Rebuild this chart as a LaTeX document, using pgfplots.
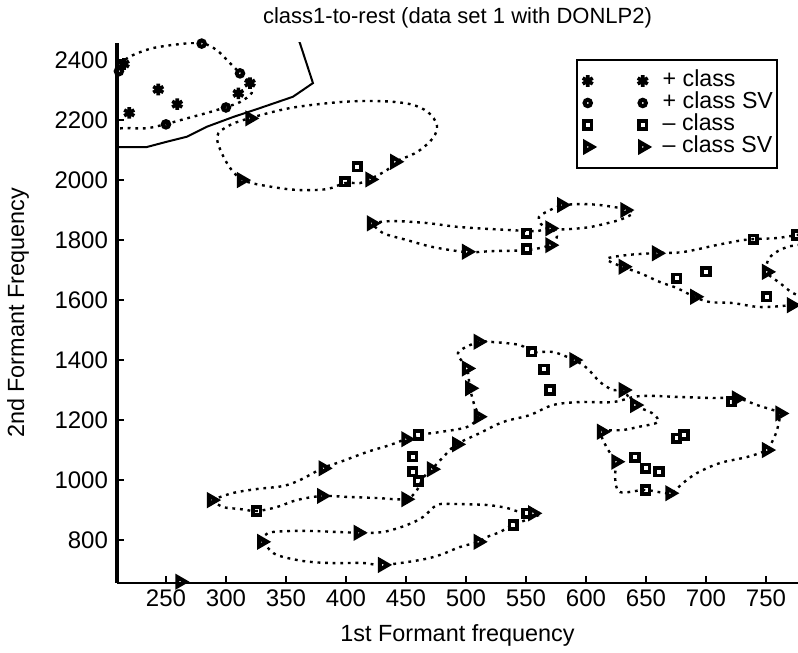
\documentclass[border=0pt]{standalone}
\usepackage{pgfplots}
\pgfplotsset{compat=1.18}
\usepackage{fontspec}
\setmainfont{Liberation Sans}
\pgfplotsset{
  lvl/.style={black, line width=1.2pt, dash pattern=on 1.4pt off 2.4pt, smooth, tension=0.55, forget plot, mark=none},
}
\begin{document}
\begin{tikzpicture}
\begin{axis}[
  at={(0pt,0pt)}, anchor=south west,
  width=340.5pt, height=270pt, scale only axis,
  xmin=209.2, xmax=776.7, ymin=656.7, ymax=2457,
  axis x line=bottom, axis y line=left,
  x axis line style={-, line width=1.2pt},
  y axis line style={-, line width=1.7pt},
  xtick={250,300,...,750}, ytick={800,1000,...,2400},
  tick align=inside, major tick length=3.5pt,
  tick style={line width=1pt, black},
  /pgf/number format/1000 sep={},
  /pgf/number format/assume math mode=true,
  ticklabel style={font=\fontsize{12}{14}\selectfont},
  yticklabel style={xshift=-1pt},
  every axis title shift=0pt,
  title={class1-to-rest (data set 1 with DONLP2)},
  title style={at={(axis description cs:0.5,1.0463)}, anchor=center, font=\fontsize{11}{13}\selectfont},
  xlabel={1st Formant frequency},
  xlabel style={at={(axis description cs:0.5,-0.0963)}, anchor=center, font=\fontsize{11.7}{14}\selectfont},
  ylabel={2nd Formant Frequency},
  ylabel style={at={(axis description cs:-0.14537,0.5)}, anchor=center, font=\fontsize{11.7}{14}\selectfont},
  legend style={at={(axis description cs:0.9706,0.9704)}, anchor=north east, draw=black, line width=1pt,
    font=\fontsize{11.6}{14}\selectfont, inner xsep=0.5pt, inner ysep=5pt, row sep=0pt,
    nodes={inner xsep=1.5pt, inner ysep=0.25pt, text height=8pt, text depth=2.5pt}},
  legend cell align=left,
  legend image code/.code={\path[draw=none,fill=none] (-5pt,0pt) -- (36pt,0pt); \draw[#1] plot coordinates {(0pt,0pt) (27.5pt,0pt)};},
]
% decision boundary
\addplot[black, line width=1pt, sharp plot, forget plot, mark=none] coordinates {
(195,2110) (233.9,2110) (250.6,2127.7) (267.3,2144.3) (284,2177.7) (305.8,2210) (328.3,2240) (355.8,2277.7) (372.5,2323.3) (361.7,2455.7) (360,2473)};
% + class contour (top left)
\addplot[lvl] coordinates {
(199.2,2166.7) (214.2,2173) (233.9,2173) (250,2186.7) (268.3,2206.7) (286.7,2226.7) (300,2243.3) (311.7,2260) (321.4,2290) (320,2323.3) (311.7,2356.7) (303.3,2390) (292.3,2433.3) (279.8,2456.7) (261.7,2453.3) (239.2,2440) (222.5,2416.7) (213.1,2393.3) (201.7,2360)};
% contour F
\addplot[lvl] coordinates {
(320,2206.7) (353.3,2240) (395,2260) (428.3,2263.3) (453.3,2253.3) (468.3,2226.7) (475.8,2183.3) (472.5,2140) (459.2,2093.3) (440.8,2060) (434.2,2033.3) (420,2003.3) (411.7,1990) (399.2,1990) (384.2,1970) (361.7,1966.7) (339.2,1976.7) (314.2,2000) (300.8,2056.7) (292.5,2143.3) (303.3,2183.3) (320,2206.7)};
% contour G
\addplot[lvl] coordinates {
(421.4,1856.7) (439.2,1863.3) (467.5,1856.7) (495,1843.3) (536.7,1833.3) (559.2,1830) (570,1840) (575.8,1813.3) (570,1783.3) (550.8,1766.7) (522.5,1763.3) (500.8,1760) (472.5,1776.7) (450.8,1800) (430.8,1823.3) (421.4,1856.7)};
% contour H
\addplot[lvl] coordinates {
(579.8,1916.7) (595,1920) (611.7,1916.7) (632.5,1903.3) (639.2,1890) (630,1870) (618.3,1856.7) (603.3,1843.3) (586.7,1836.7) (571.7,1836.7) (562.5,1853.3) (560.8,1876.7) (568.3,1896.7) (579.8,1916.7)};
% contour I outer
\addplot[lvl] coordinates {
(785,1593.3) (771.4,1583.3) (745,1576.7) (722.5,1590) (703.3,1593.3) (690.8,1610) (675.8,1640) (661.7,1660) (645,1690) (630.8,1710) (617.5,1736.7) (634.2,1750) (658.9,1756.7) (680.8,1760) (708.9,1783.3) (730.8,1800) (739.2,1803.3) (758.9,1806.7) (775.6,1816.7) (785,1823.3)};
% contour I inner
\addplot[lvl] coordinates {
(785,1786.7) (767.5,1776.7) (753.3,1743.3) (750.6,1693.3) (761.7,1656.7) (772.5,1623.3) (785,1606)};
% contour B+C
\addplot[lvl] coordinates {
(288.1,933.3) (305.8,956.7) (325.8,970) (347.5,980) (361.7,1000) (380.8,1040) (395,1060) (417.5,1093.3) (436.7,1116.7) (450,1136.7) (460,1150) (478.3,1160) (500.8,1176.7) (510,1210) (506.7,1253.3) (503.3,1306.7) (500.8,1373.3) (493.3,1423.3) (510,1460) (522.5,1460) (545,1450) (555,1426.7) (572.5,1426.7) (590,1400) (600.8,1373.3) (611.7,1326.7) (622.5,1300) (630.8,1300) (640.8,1250) (655,1223.3) (660,1193.3) (643.3,1176.7) (630.8,1166.7) (613.1,1160) (617.5,1106.7) (625,1060) (624.2,1010) (628.3,960) (649.2,966.7) (670,956.7) (680.8,990) (692.5,1023.3) (711.7,1056.7) (734.2,1076.7) (750.8,1100) (755,1126.7) (759.2,1166.7) (761.7,1223.3) (755.8,1233.3) (742.5,1250) (725.8,1273.3) (705.8,1273.3) (678.3,1276.7) (645,1280) (622.5,1260) (595,1260) (572.5,1250) (553.3,1216.7) (530.8,1193.3) (511.7,1156.7) (492.5,1120) (484.2,1090) (471.7,1036.7) (464.2,1006.7) (459.2,966.7) (450,936.7) (425.8,940) (403.3,943.3) (380,946.7) (359.2,933.3) (342.5,910) (325.8,896.7) (311.7,903.3) (297.5,910) (288.1,933.3)};
% contour D
\addplot[lvl] coordinates {
(329.8,794.3) (335,823.3) (353.3,830) (372.5,830) (410,824.3) (430.8,826.7) (450.8,850) (464.2,876.7) (475.8,916.7) (489.2,920) (517.5,916.7) (534.2,906.7) (545,893.3) (555.8,890) (562.5,886.7) (539.2,850) (528.3,826.7) (517.5,810) (510,793.3) (495,776.7) (478.3,750) (461.7,733.3) (430.8,716.7) (414.2,723.3) (386.7,723.3) (364.2,730) (342.5,750) (334.2,776.7) (329.8,794.3)};
% markers
\addplot[only marks, black, mark=asterisk, mark size=2.9pt, line width=1.8pt] coordinates {
(320,2323.3) (310.3,2289) (243.6,2302) (259.4,2253) (219.4,2224) (215,2387)};
\addlegendentry{+ class}
\addplot[only marks, black, mark=o, mark size=1.6pt, line width=2pt] coordinates {
(279.75,2455) (311.7,2355.7) (300,2242) (250,2185.7) (210.8,2363)};
\addlegendentry{+ class SV}
\addplot[only marks, black, mark=square, mark size=1.9pt, line width=1.8pt] coordinates {
(409.4,2044) (399.2,1994) (550.6,1823) (550.6,1770) (675.6,1672) (700,1694) (739.4,1803) (775.6,1817) (750.6,1611)
(554.7,1428) (565,1369) (570,1300) (721.4,1261) (675.6,1139) (681.7,1150) (640.8,1076) (649.7,1039) (660.8,1028) (649.7,967)
(460.3,1150) (455.6,1078) (455.6,1028) (460.3,997) (325.6,897) (539.4,850) (550.6,889)};
\addlegendentry{– class}
\addplot[only marks, black, mark=triangle, mark size=2.7pt, line width=2pt, mark options={rotate=-90}] coordinates {
(320,2205.7) (313.1,2000) (420,2002) (440.8,2061)
(421.4,1855.7) (500.6,1761) (570,1839) (570,1783) (579.8,1917) (632.5,1900)
(658.9,1756) (631.1,1711) (690.8,1611) (750.6,1694) (771.4,1583)
(510.3,1461) (500.6,1372) (503.3,1306) (510.3,1211) (590,1400) (631.1,1300)
(640.8,1250) (613.1,1161) (625,1061) (670,956) (750.6,1100) (761.7,1222) (725.6,1272)
(288.1,933) (381.1,1039) (379.8,947) (450,1136) (471.4,1036) (492.3,1119) (450,936)
(329.8,794) (410.3,824) (430.6,717) (510.3,794) (555.8,889) (261.7,661)};
\addlegendentry{– class SV}
\end{axis}
\pgfresetboundingbox
\path (-58.5pt,-35pt) rectangle (340.5pt,291.5pt);
\end{tikzpicture}
\end{document}
